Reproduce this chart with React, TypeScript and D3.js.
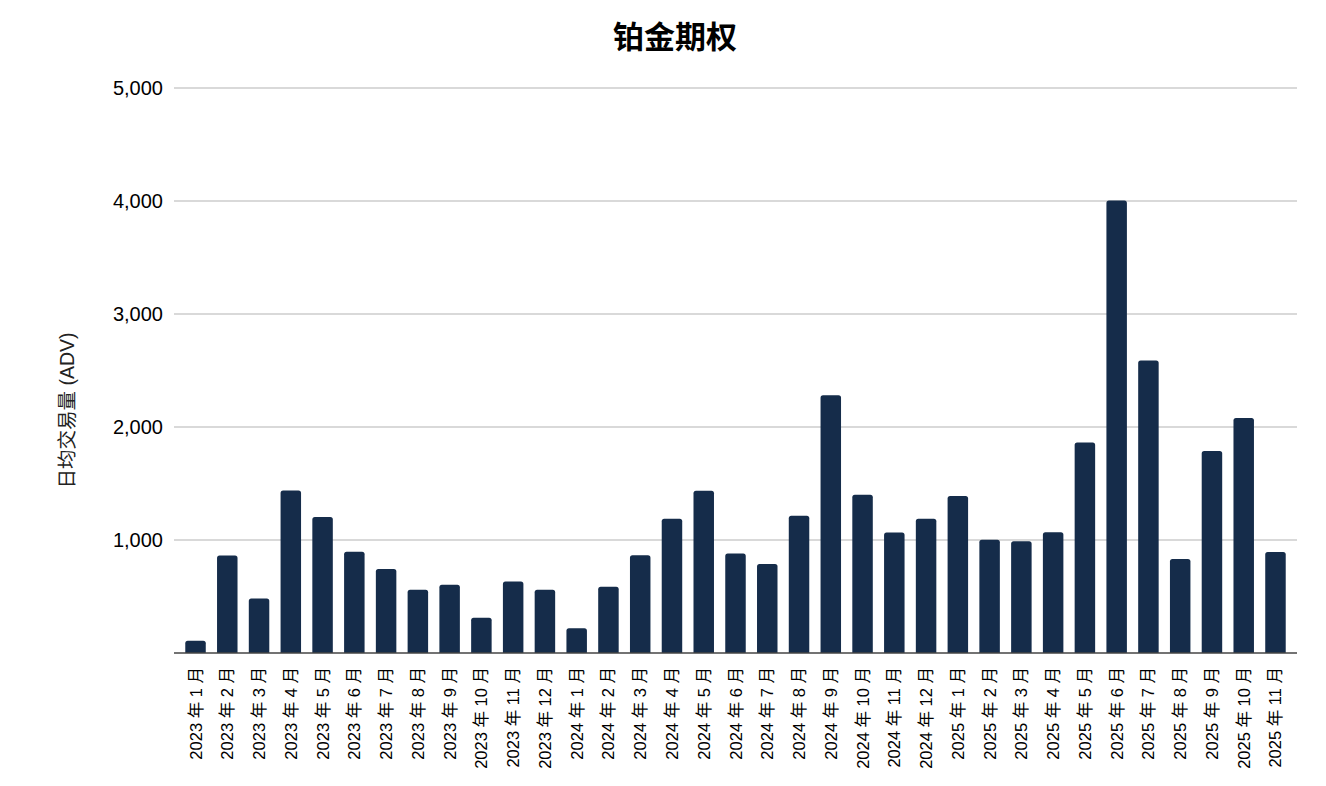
import React, { useEffect, useRef } from 'react';
import * as d3 from 'd3';

// monthly ADV, Jan 2023 .. Nov 2025
const months = [
  '2023 年 1 月', '2023 年 2 月', '2023 年 3 月', '2023 年 4 月', '2023 年 5 月', '2023 年 6 月',
  '2023 年 7 月', '2023 年 8 月', '2023 年 9 月', '2023 年 10 月', '2023 年 11 月', '2023 年 12 月',
  '2024 年 1 月', '2024 年 2 月', '2024 年 3 月', '2024 年 4 月', '2024 年 5 月', '2024 年 6 月',
  '2024 年 7 月', '2024 年 8 月', '2024 年 9 月', '2024 年 10 月', '2024 年 11 月', '2024 年 12 月',
  '2025 年 1 月', '2025 年 2 月', '2025 年 3 月', '2025 年 4 月', '2025 年 5 月', '2025 年 6 月',
  '2025 年 7 月', '2025 年 8 月', '2025 年 9 月', '2025 年 10 月', '2025 年 11 月',
];

const adv = [
  109, 863, 482, 1437, 1204, 896, 743, 559, 603, 311, 633, 559,
  218, 587, 864, 1187, 1436, 880, 788, 1215, 2280, 1400, 1066, 1187,
  1390, 1003, 988, 1068, 1862, 4005, 2588, 831, 1787, 2080, 893,
];

const yTicks = [1000, 2000, 3000, 4000, 5000];

const title = '铂金期权';
const yLabel = '日均交易量 (ADV)';

const FONT = "'Liberation Sans', Arial, 'Noto Sans CJK SC', sans-serif";

const App: React.FC = () => {
  const svgRef = useRef<SVGSVGElement>(null);

  useEffect(() => {
    if (!svgRef.current) return;
    const W = 1326;
    const H = 786;
    const margin = { top: 88, right: 29, bottom: 133, left: 174 };

    const svg = d3.select(svgRef.current).html('');

    const x = d3.scaleBand<string>()
      .domain(months)
      .range([margin.left, W - margin.right])
      .padding(0.355);

    const y = d3.scaleLinear()
      .domain([0, 5000])
      .range([H - margin.bottom, margin.top]);

    // gridlines
    svg.append('g')
      .selectAll('line')
      .data(yTicks)
      .join('line')
      .attr('x1', margin.left)
      .attr('x2', W - margin.right)
      .attr('y1', d => y(d))
      .attr('y2', d => y(d))
      .attr('stroke', '#cccccc')
      .attr('stroke-width', 1.3);

    // y tick labels
    svg.append('g')
      .selectAll('text')
      .data(yTicks)
      .join('text')
      .attr('x', margin.left - 11)
      .attr('y', d => y(d) + 2)
      .attr('text-anchor', 'end')
      .attr('dominant-baseline', 'middle')
      .style('font-family', FONT)
      .style('font-size', '20px')
      .attr('fill', '#000')
      .text(d => d3.format(',')(d));

    // bars
    svg.append('g')
      .selectAll('rect')
      .data(adv)
      .join('rect')
      .attr('x', (_, i) => x(months[i])!)
      .attr('width', x.bandwidth())
      .attr('y', d => y(d))
      .attr('height', d => y(0) - y(d) + 3)
      .attr('rx', 2.5)
      .attr('fill', '#152c4a');

    // cover the rounded bottoms below the baseline
    svg.append('rect')
      .attr('x', margin.left)
      .attr('y', y(0))
      .attr('width', W - margin.right - margin.left)
      .attr('height', 5)
      .attr('fill', '#fff');

    // baseline
    svg.append('line')
      .attr('x1', margin.left)
      .attr('x2', W - margin.right)
      .attr('y1', y(0))
      .attr('y2', y(0))
      .attr('stroke', '#444')
      .attr('stroke-width', 1.5);

    // x labels
    svg.append('g')
      .selectAll('text')
      .data(months)
      .join('text')
      .attr('transform', d => `translate(${x(d)! + x.bandwidth() / 2},${y(0) + 14}) rotate(-90)`)
      .attr('text-anchor', 'end')
      .attr('dominant-baseline', 'central')
      .style('font-family', FONT)
      .style('font-size', '16.5px')
      .attr('fill', '#000')
      .text(d => d);

    // y axis title
    svg.append('text')
      .attr('transform', `translate(67,${(y(0) + y(5000)) / 2 + 40}) rotate(-90)`)
      .attr('text-anchor', 'middle')
      .attr('dominant-baseline', 'central')
      .style('font-family', "'Liberation Sans', Arial, 'Noto Sans CJK SC', sans-serif")
      .style('font-size', '19.5px')
      .attr('fill', '#222')
      .text(yLabel);

    // title
    svg.append('text')
      .attr('x', W / 2 + 12)
      .attr('y', 34)
      .attr('text-anchor', 'middle')
      .attr('dominant-baseline', 'central')
      .style('font-family', "'Noto Sans CJK SC', sans-serif")
      .style('font-size', '31px')
      .style('font-weight', 'bold')
      .attr('fill', '#000')
      .text(title);
  }, []);

  return (
    <svg
      ref={svgRef}
      width={1326}
      height={786}
      style={{ position: 'absolute', left: 0, top: 0, background: '#fff' }}
    />
  );
};

export default App;
